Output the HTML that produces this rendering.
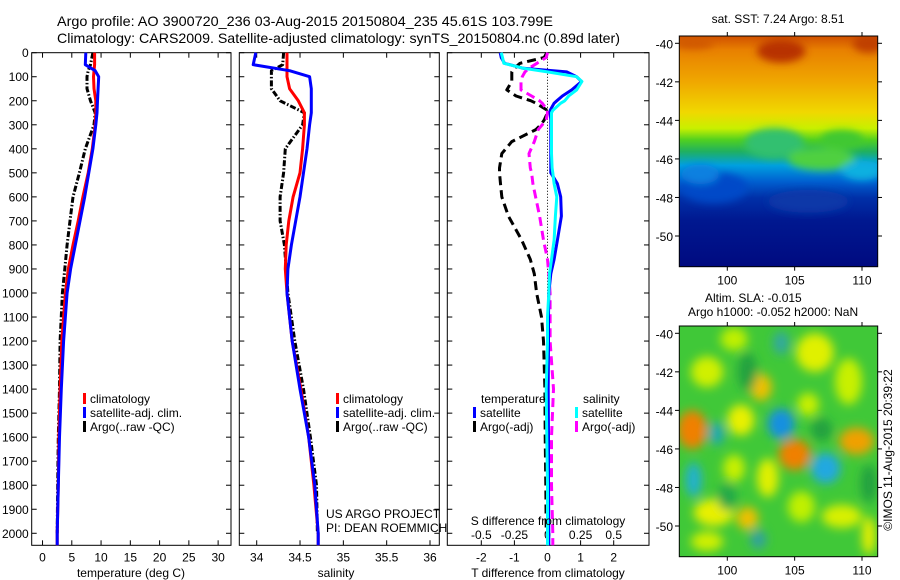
<!DOCTYPE html>
<html><head><meta charset="utf-8">
<style>
body{margin:0;background:#fff;}
svg{display:block;font-family:"Liberation Sans",sans-serif;}
text{fill:#000;}
</style></head>
<body>
<svg id="fig" width="900" height="580" viewBox="0 0 900 580" xmlns="http://www.w3.org/2000/svg">
<defs>
<filter id="blur6" x="-50%" y="-50%" width="200%" height="200%"><feGaussianBlur stdDeviation="5"/></filter>
<filter id="blur3" x="-50%" y="-50%" width="200%" height="200%"><feGaussianBlur stdDeviation="4"/></filter>
<clipPath id="clipM1"><rect x="679" y="36" width="199" height="231"/></clipPath>
<clipPath id="clipM2"><rect x="679" y="326" width="199" height="231"/></clipPath>
<linearGradient id="sstGrad" x1="0" y1="0" x2="0" y2="1">
<stop offset="0" stop-color="#d05000"/>
<stop offset="0.06" stop-color="#e88000"/>
<stop offset="0.2" stop-color="#f0a800"/>
<stop offset="0.33" stop-color="#f0d800"/>
<stop offset="0.4" stop-color="#c8f000"/>
<stop offset="0.45" stop-color="#50d020"/>
<stop offset="0.5" stop-color="#20b060"/>
<stop offset="0.56" stop-color="#00a0e0"/>
<stop offset="0.63" stop-color="#0060d0"/>
<stop offset="0.7" stop-color="#0030a8"/>
<stop offset="0.8" stop-color="#001890"/>
<stop offset="1" stop-color="#000a80"/>
</linearGradient>
</defs>
<g id="titles">
<text x="57" y="26" font-size="14" textLength="496" lengthAdjust="spacingAndGlyphs">Argo profile: AO 3900720_236 03-Aug-2015 20150804_235 45.61S 103.799E</text>
<text x="57" y="43" font-size="14" textLength="563" lengthAdjust="spacingAndGlyphs">Climatology: CARS2009. Satellite-adjusted climatology: synTS_20150804.nc (0.89d later)</text>
</g>
<g id="p1"></g><g id="p2"></g><g id="p3"></g>
<g id="maps"></g>
</svg>
<script>
// ---- data ----
const depths = [0,50,75,100,150,200,250,300,400,500,600,700,800,900,1000,1200,1400,1600,1800,2000,2050];
const tempClim = [8.9,8.9,8.8,8.7,8.8,9.1,9.1,9.0,8.5,7.8,6.9,6.1,5.2,4.4,3.9,3.3,3.0,2.8,2.7,2.5,2.5];
const tempSat  = [7.4,7.3,9.0,9.6,9.5,9.4,9.3,9.1,8.6,7.9,7.2,6.4,5.6,4.8,4.2,3.6,3.2,2.9,2.7,2.5,2.5];
const tempArgo = [8.6,8.2,7.8,7.6,7.6,8.2,9.0,8.8,7.3,6.3,5.2,4.7,4.2,3.8,3.4,3.0,2.9,2.7,2.6,2.5,null];
const salClim  = [34.35,34.35,34.35,34.35,34.38,34.48,34.55,34.55,34.53,34.50,34.42,34.37,34.34,34.33,34.35,34.41,34.51,34.60,34.66,34.71,34.71];
const salSat   = [33.99,33.96,34.38,34.61,34.63,34.63,34.63,34.61,34.58,34.54,34.50,34.45,34.40,34.36,34.35,34.41,34.50,34.60,34.67,34.71,34.71];
const salArgo  = [34.31,34.30,34.17,34.17,34.17,34.27,34.55,34.53,34.33,34.31,34.27,34.27,34.32,34.34,34.36,34.44,34.54,34.62,34.69,34.70,null];
const diffDepths = [0,20,44,65,80,100,120,155,180,200,210,240,250,280,300,320,370,420,480,500,545,600,680,780,860,920,1000,1100,1200,1400,1600,1800,2000,2050];
const dTsat  = [-1.43,-1.4,-1.3,-0.73,0.58,0.88,1.03,0.73,0.45,0.28,0.2,0.08,0.08,0.1,0.1,0.1,0.1,0.1,0.1,0.1,0.3,0.4,0.42,0.3,0.2,0.1,0.04,0.03,0.03,0.02,0.03,0.03,0.04,0.04];
const dSsat  = [-0.35,-0.34,-0.33,-0.18,0.0,0.22,0.26,0.22,0.16,0.13,0.1,0.04,0.03,0.03,0.03,0.03,0.03,0.03,0.035,0.04,0.05,0.07,0.06,0.05,0.03,0.015,0.01,0.0,0.0,-0.01,-0.005,0.0,0.0,0.0];
const dTargo = [-0.02,-0.1,-0.83,-1.0,-1.08,-1.08,-1.08,-1.23,-0.95,-0.5,-0.35,0.0,0.0,-0.1,-0.2,-0.35,-1.08,-1.38,-1.45,-1.45,-1.42,-1.38,-1.18,-0.78,-0.52,-0.4,-0.33,-0.18,-0.12,-0.08,-0.07,-0.05,-0.04,null];
const dSargo = [0.0,-0.01,-0.08,-0.14,-0.17,-0.19,-0.2,-0.2,-0.12,-0.06,-0.04,0.0,0.0,-0.01,-0.04,-0.07,-0.1,-0.14,-0.13,-0.12,-0.11,-0.09,-0.06,-0.03,0.0,0.01,0.02,0.02,0.02,0.045,0.03,0.03,0.04,0.04];
const depthTicks = [0,100,200,300,400,500,600,700,800,900,1000,1100,1200,1300,1400,1500,1600,1700,1800,1900,2000];
const tempTicks = [0,5,10,15,20,25,30];
const salTicks = [34,34.5,35,35.5,36];
const salTickLabels = ["34","34.5","35","35.5","36"];
const tdTicks = [-2,-1,0,1,2];
const sdTickLabels = ["-0.5","-0.25","0","0.25","0.5"];
const latTicks = [-40,-42,-44,-46,-48,-50];
const lonTicks = [100,105,110];

const NS="http://www.w3.org/2000/svg";
function mk(parent,tag,attrs,txt){const e=document.createElementNS(NS,tag);for(const k in attrs)e.setAttribute(k,attrs[k]);if(txt!==undefined)e.textContent=txt;parent.appendChild(e);return e;}
const Y0=52.7, Y1=545.3;
const yD = d => Y0 + (d/2050)*(Y1-Y0);
function lin(d0,d1,r0,r1){return v=>r0+(v-d0)/(d1-d0)*(r1-r0);}
function pathD(xs,ds,sx){let s="";let pen=false;for(let i=0;i<xs.length;i++){if(xs[i]===null||xs[i]===undefined){pen=false;continue;}s+=(pen?"L":"M")+sx(xs[i]).toFixed(1)+","+yD(ds[i]).toFixed(1);pen=true;}return s;}

function frame(g,x0,x1,name,labels){
  const r=mk(g,'rect',{x:x0,y:Y0,width:x1-x0,height:Y1-Y0,fill:'none',stroke:'#000','stroke-width':1});
  
  
  depthTicks.forEach(d=>{
    const y=yD(d);
    mk(g,'line',{x1:x0,y1:y,x2:x0+5,y2:y,stroke:'#000'});
    mk(g,'line',{x1:x1-5,y1:y,x2:x1,y2:y,stroke:'#000'});
    if(labels){const t=mk(g,'text',{x:x0-3,y:y+4.5,'font-size':12,'text-anchor':'end'},String(d));
      
      }
  });
}
function xticks(g,vals,labels,sx,name){
  vals.forEach((v,i)=>{const x=sx(v);
    mk(g,'line',{x1:x,y1:Y1,x2:x,y2:Y1-5,stroke:'#000'});
    mk(g,'line',{x1:x,y1:Y0,x2:x,y2:Y0+5,stroke:'#000'});
    if(labels){const t=mk(g,'text',{x:x,y:Y1+16,'font-size':12,'text-anchor':'middle'},labels[i]);
      
      }
  });
}
function series(g,xs,ds,sx,color,w,dash,name){
  const p=mk(g,'path',{d:pathD(xs,ds,sx),fill:'none',stroke:color,'stroke-width':w,'stroke-linejoin':'round'});
  if(dash)p.setAttribute('stroke-dasharray',dash);
  
  
}
function legendRow(g,x,y,color,label,name){
  mk(g,'rect',{x:x,y:y-10,width:3,height:11,fill:color});
  const t=mk(g,'text',{x:x+7,y:y,'font-size':12},label);
  
  
}

// Panel 1 temperature
(function(){
  const g=document.getElementById('p1');
  const x0=31.7,x1=231;
  const sx=lin(-1.85,32.2,x0,x1);
  frame(g,x0,x1,'temperature-panel',true);
  xticks(g,tempTicks,tempTicks.map(String),sx,'temperature');
  series(g,tempArgo,depths,sx,'#000',3,'6,2,1.5,2','temperature-argo-line');
  series(g,tempClim,depths,sx,'#ff0000',3,null,'temperature-climatology-line');
  series(g,tempSat,depths,sx,'#0000ff',3,null,'temperature-satellite-line');
  const t=mk(g,'text',{x:131,y:577,'font-size':12,'text-anchor':'middle'},'temperature (deg C)');
  
  
  legendRow(g,83,403,'#ff0000','climatology','legend-climatology');
  legendRow(g,83,417,'#0000ff','satellite-adj. clim.','legend-satellite');
  legendRow(g,83,431,'#000','Argo(..raw -QC)','legend-argo');
})();

// Panel 2 salinity
(function(){
  const g=document.getElementById('p2');
  const x0=239.3,x1=439.3;
  const sx=lin(34,36,256.7,430);
  frame(g,x0,x1,'salinity-panel',false);
  xticks(g,salTicks,salTickLabels,sx,'salinity');
  series(g,salArgo,depths,sx,'#000',3,'6,2,1.5,2','salinity-argo-line');
  series(g,salClim,depths,sx,'#ff0000',3,null,'salinity-climatology-line');
  series(g,salSat,depths,sx,'#0000ff',3,null,'salinity-satellite-line');
  const t=mk(g,'text',{x:336,y:577,'font-size':12,'text-anchor':'middle'},'salinity');
  
  
  legendRow(g,336,403,'#ff0000','climatology','legend-climatology-2');
  legendRow(g,336,417,'#0000ff','satellite-adj. clim.','legend-satellite-2');
  legendRow(g,336,431,'#000','Argo(..raw -QC)','legend-argo-2');
  const a=mk(g,'text',{x:326,y:518,'font-size':12},'US ARGO PROJECT');
  
  
  const b=mk(g,'text',{x:326,y:532,'font-size':12},'PI: DEAN ROEMMICH');
  
  
})();

// Panel 3 differences
(function(){
  const g=document.getElementById('p3');
  const x0=447.3,x1=649;
  const sx=lin(-2,2,481.3,613.7);
  const sxS=v=>sx(v*4);
  frame(g,x0,x1,'difference-panel',false);
  xticks(g,tdTicks,tdTicks.map(String),sx,'t-difference');
  tdTicks.forEach((v,i)=>{const t=mk(g,'text',{x:sx(v),y:539,'font-size':12,'text-anchor':'middle'},sdTickLabels[i]);
    
    });
  mk(g,'line',{x1:sx(0),y1:Y0,x2:sx(0),y2:Y1,stroke:'#000','stroke-dasharray':'1,2'});
  series(g,dTargo,diffDepths,sx,'#000',3,'9,5','t-diff-argo-line');
  series(g,dSargo,diffDepths,sxS,'#ff00ff',3,'9,5','s-diff-argo-line');
  series(g,dTsat,diffDepths,sx,'#0000ff',3,null,'t-diff-satellite-line');
  series(g,dSsat,diffDepths,sxS,'#00ffff',3,null,'s-diff-satellite-line');
  const h1=mk(g,'text',{x:481,y:403,'font-size':12},'temperature');
  
  
  const h2=mk(g,'text',{x:583,y:403,'font-size':12},'salinity');
  
  
  legendRow(g,473,417,'#0000ff','satellite','legend-t-satellite');
  legendRow(g,473,431,'#000','Argo(-adj)','legend-t-argo');
  legendRow(g,575,417,'#00ffff','satellite','legend-s-satellite');
  legendRow(g,575,431,'#ff00ff','Argo(-adj)','legend-s-argo');
  const s=mk(g,'text',{x:548,y:525,'font-size':12,'text-anchor':'middle'},'S difference from climatology');
  
  
  const t=mk(g,'text',{x:548,y:577,'font-size':12,'text-anchor':'middle'},'T difference from climatology');
  
  
})();

// Maps
const sstBlobs = [[104,-40.4,1.8,0.6,'#b83000'],[110.5,-40,1.2,0.5,'#c04000'],[97.5,-40,1.5,0.3,'#d05800'],[103.5,-45.2,2.2,0.8,'#30c070'],[99,-47.5,2.5,0.8,'#0048c8'],[107,-46,2.5,0.6,'#50d040'],[108.5,-45,1.6,0.5,'#40c830'],[110,-46.6,1.5,0.5,'#10b0e0'],[98,-46.8,1.4,0.5,'#1080e0'],[106,-48.2,3,0.6,'#0838a8']];
const slaBlobs = [[97.4,-45,1.1,1.0,'#f08000'],[105,-46.3,1.2,0.8,'#f08000'],[109.6,-45.6,1.3,0.7,'#f0a000'],[102.5,-42.8,0.8,0.7,'#f0c000'],[101.5,-49.6,0.8,0.6,'#f0c000'],[104,-44.7,1.0,0.8,'#1890e0'],[107.3,-47,1.1,0.8,'#20a8e0'],[97.5,-47.6,0.6,0.9,'#20b0d0'],[99.2,-45.2,0.6,0.6,'#20a8b0'],[104,-40.5,0.6,0.6,'#30a8a0'],[102.3,-50.7,0.6,0.5,'#30a0a0'],[106.5,-41,1.4,1.0,'#e0f000'],[98.5,-42,1.2,0.8,'#d0f000'],[101,-44.5,1.0,0.8,'#e8f000'],[99,-49.3,1.5,0.7,'#e8f000'],[108.5,-49.5,1.5,0.6,'#d8f000'],[103,-47.5,0.8,1.0,'#e0f000'],[110.5,-50.5,0.5,1.0,'#e8f000'],[109,-42.5,1.0,1.2,'#c8f000'],[100.5,-40.3,1.0,0.6,'#c0f000'],[105.5,-49,1.0,0.8,'#c0f000'],[98.5,-50.8,1.2,0.5,'#d0f000'],[106,-43.7,0.8,0.6,'#c8f000'],[100.5,-47,0.8,0.7,'#c8f000'],[101.5,-42,0.7,1.0,'#20a040'],[107,-45,0.8,0.6,'#20a040'],[100,-48.5,0.7,0.7,'#22a848'],[110.5,-47.8,0.6,1.0,'#20a040']];
(function(){
  const g=document.getElementById('maps');
  const lx=lin(100,110,727.3,862);
  function mapAxes(top,bottom,name,lat40y){
    const ly=lin(-40,-50,lat40y,lat40y+192.7);
    mk(g,'rect',{x:679.3,y:top,width:198.4,height:bottom-top,fill:'none',stroke:'#000'});
    latTicks.forEach(v=>{const y=ly(v);
      mk(g,'line',{x1:679.3,y1:y,x2:675,y2:y,stroke:'#000'});
      mk(g,'line',{x1:877.7,y1:y,x2:882,y2:y,stroke:'#000'});
      const t=mk(g,'text',{x:673,y:y+5,'font-size':12,'text-anchor':'end'},String(v));
      
      });
    lonTicks.forEach(v=>{const x=lx(v);
      mk(g,'line',{x1:x,y1:top,x2:x,y2:top-4,stroke:'#000'});
      mk(g,'line',{x1:x,y1:bottom,x2:x,y2:bottom+4,stroke:'#000'});
      const t=mk(g,'text',{x:x,y:bottom+18,'font-size':12,'text-anchor':'middle'},String(v));
      
      });
    return ly;
  }
  // SST map
  const g1=mk(g,'g',{'clip-path':'url(#clipM1)'});
  
  
  mk(g1,'rect',{x:679,y:36,width:199,height:231,fill:'url(#sstGrad)'});
  const ly1=lin(-40,-50,43.3,236);
  const bg1=mk(g1,'g',{filter:'url(#blur3)'});
  sstBlobs.forEach(b=>mk(bg1,'ellipse',{cx:lx(b[0]),cy:ly1(b[1]),rx:b[2]*13.47,ry:b[3]*19.27,fill:b[4]}));
  mapAxes(36,266.7,'sst-map',43.3);
  const st=mk(g,'text',{x:778,y:23,'font-size':12,'text-anchor':'middle'},'sat. SST: 7.24 Argo: 8.51');
  
  
  // SLA map
  const g2=mk(g,'g',{'clip-path':'url(#clipM2)'});
  
  
  mk(g2,'rect',{x:679,y:326,width:199,height:231,fill:'#40c838'});
  const ly2=lin(-40,-50,333.3,526);
  const bg2=mk(g2,'g',{filter:'url(#blur6)'});
  slaBlobs.forEach(b=>mk(bg2,'ellipse',{cx:lx(b[0]),cy:ly2(b[1]),rx:b[2]*13.47,ry:b[3]*19.27,fill:b[4]}));
  mapAxes(326,556.7,'sla-map',333.3);
  const a=mk(g,'text',{x:705,y:302,'font-size':12},'Altim. SLA: -0.015');
  
  
  const b=mk(g,'text',{x:688,y:316,'font-size':12},'Argo h1000: -0.052 h2000: NaN');
  
  
  const c=mk(g,'text',{x:0,y:0,'font-size':12,'text-anchor':'middle',transform:'translate(892,450) rotate(-90)'},'©IMOS 11-Aug-2015 20:39:22');
  
  
})();
</script>
</body></html>
